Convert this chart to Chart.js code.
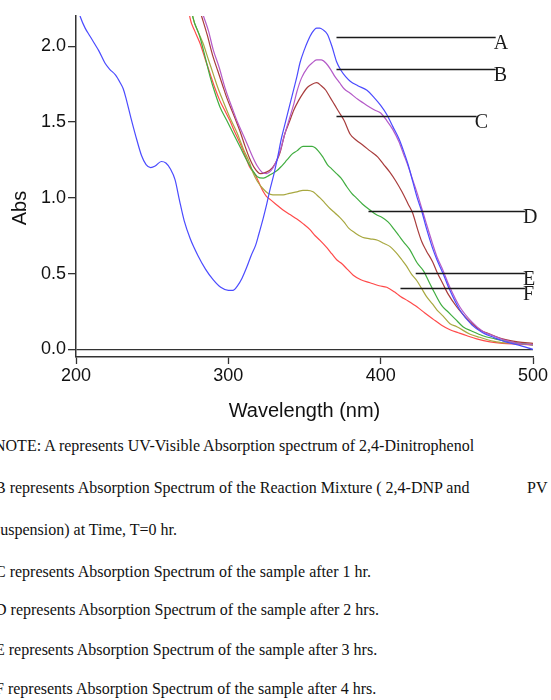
<!DOCTYPE html>
<html><head><meta charset="utf-8">
<script src="https://cdn.jsdelivr.net/npm/chart.js@4.4.0/dist/chart.umd.min.js"></script>
<style>
html,body{margin:0;padding:0;background:#fff;overflow:hidden;width:551px;height:700px;position:relative;}
#wrap{position:absolute;left:0;top:0;width:551px;height:430px;}
.note{position:absolute;font-family:"Liberation Serif","Times New Roman",serif;font-size:16px;color:#111;white-space:pre;line-height:1;}
</style></head><body>
<div id="wrap"><canvas id="c" width="551" height="430"></canvas></div>
<div class="note" style="left:-6px;top:438px">NOTE: A represents UV-Visible Absorption spectrum of 2,4-Dinitrophenol</div>
<div class="note" style="left:-5px;top:480px">B represents Absorption Spectrum of the Reaction Mixture ( 2,4-DNP and</div>
<div class="note" style="left:527px;top:480px">PV</div>
<div class="note" style="left:-6px;top:522px">suspension) at Time, T=0 hr.</div>
<div class="note" style="left:-5px;top:564px">C represents Absorption Spectrum of the sample after 1 hr.</div>
<div class="note" style="left:-5px;top:602px">D represents Absorption Spectrum of the sample after 2 hrs.</div>
<div class="note" style="left:-5px;top:642px">E represents Absorption Spectrum of the sample after 3 hrs.</div>
<div class="note" style="left:-5px;top:681px">F represents Absorption Spectrum of the sample after 4 hrs.</div>
<script>
// ---- data (wavelength nm / absorbance) ----
const seriesNames = ['A','B','C','D','E','F'];
const xTicks = [200, 300, 400, 500];
const yTicks = [0.0, 0.5, 1.0, 1.5, 2.0];

const wlA  = [200,203,206,209,212,215,219,222,226,229,231,233,236,240,243,246,249,252,256,259,262,265,268,271,275,280,285,290,295,300,303,306,309,312,315,318,320,323,325,327,330,332,335,337,340,342,345,347,350,352,355,358,360,362,365,368,371,374,377,380,385,391,395,400,404,408,412,415,418,421,424,427,430,434,437,441,445,452,460,467,474,482,490,500];
const absA = [2.30,2.19,2.12,2.07,2.02,1.97,1.89,1.85,1.81,1.76,1.72,1.65,1.53,1.38,1.28,1.22,1.20,1.21,1.24,1.23,1.19,1.12,0.98,0.85,0.73,0.62,0.53,0.46,0.41,0.39,0.39,0.42,0.47,0.54,0.62,0.69,0.76,0.87,0.95,1.04,1.16,1.25,1.40,1.48,1.60,1.68,1.80,1.89,1.98,2.03,2.09,2.12,2.12,2.11,2.08,2.00,1.90,1.84,1.80,1.77,1.74,1.71,1.67,1.61,1.55,1.47,1.39,1.31,1.22,1.11,1.00,0.91,0.80,0.67,0.59,0.50,0.40,0.26,0.16,0.11,0.08,0.05,0.03,0.00];

const wlB  = [270,284,287,290,294,298,303,306,310,313,316,319,322,325,328,331,334,337,340,343,345,348,352,355,358,361,364,367,370,373,376,380,385,391,396,400,404,408,412,415,418,421,424,427,430,434,437,441,445,452,460,467,474,482,490,500];
const absB = [2.60,2.19,2.10,1.98,1.86,1.72,1.58,1.50,1.41,1.34,1.27,1.21,1.17,1.16,1.18,1.23,1.31,1.42,1.52,1.62,1.70,1.79,1.86,1.89,1.91,1.91,1.89,1.85,1.80,1.76,1.72,1.69,1.65,1.61,1.58,1.56,1.51,1.45,1.37,1.29,1.21,1.12,1.03,0.93,0.83,0.70,0.61,0.52,0.42,0.28,0.18,0.12,0.09,0.06,0.04,0.03];

const wlC  = [270,282.7,286,290,293,296,299,303,308,311,314,317,321,325,329,332,334,337,340,343,346,349,352,355,358,361,364,367,370,373,376,380,384,388,393,398,402,406,410,414,418,421,424,427,430,434,437,441,444,450,455,459,465,472,480,490,500];
const absC = [2.60,2.19,2.08,1.93,1.84,1.75,1.66,1.56,1.43,1.34,1.26,1.20,1.16,1.17,1.20,1.25,1.30,1.42,1.50,1.58,1.64,1.69,1.73,1.75,1.76,1.74,1.71,1.66,1.61,1.56,1.51,1.42,1.38,1.35,1.31,1.27,1.22,1.17,1.11,1.04,0.96,0.90,0.80,0.71,0.65,0.58,0.51,0.43,0.37,0.28,0.22,0.18,0.13,0.10,0.07,0.05,0.04];

const wlD  = [270,276.8,281.4,285,288,291,294.5,299,303,308,312,316,319,323,327,332,335,338.5,342,345,349,352,355,357,359,362,365,368,371,374,378,381,384,388,393,397,401,405,409,412,415,419,424,428,432,435,440,444,449,454,460,467,475,485,492,500];
const absD = [2.60,2.19,2.06,1.92,1.80,1.70,1.60,1.51,1.43,1.33,1.25,1.18,1.14,1.13,1.15,1.18,1.21,1.25,1.29,1.31,1.34,1.34,1.34,1.33,1.31,1.27,1.22,1.19,1.16,1.13,1.07,1.03,1.00,0.96,0.92,0.89,0.87,0.84,0.79,0.75,0.71,0.66,0.57,0.52,0.44,0.38,0.29,0.25,0.20,0.15,0.12,0.09,0.07,0.05,0.04,0.03];

const wlE  = [270,276.8,280,283.4,287,290,293,296.5,301,305.7,310,314,316,319,322.8,326,329.3,333,336,340,345,349,352,355.6,358,360.2,363,366.7,370,373.3,376,379,383,388,393,398,402,406,410,414,417,420,424,427,430,434,437,441,445.5,450,458.7,465,476,488,500];
const absE = [2.60,2.19,2.10,2.02,1.91,1.82,1.73,1.64,1.53,1.43,1.32,1.23,1.17,1.11,1.06,1.03,1.02,1.02,1.02,1.03,1.04,1.05,1.05,1.04,1.02,1.00,0.97,0.93,0.90,0.87,0.84,0.80,0.77,0.74,0.73,0.72,0.70,0.68,0.64,0.59,0.55,0.50,0.45,0.40,0.35,0.30,0.26,0.22,0.17,0.15,0.10,0.08,0.05,0.04,0.03];

const wlF  = [270,274.8,278,281.4,285,288,291,294.5,298,301,304,307.7,311,314.2,316.5,318.8,321,323,325,327.4,331,335.9,340.5,345,349,353.6,357,360.2,364.8,368,371.3,374,378,382,387,393,399,404,409,413,418,424,429,434.4,440,445.5,451,456.7,463,471.8,480,489.5,500];
const absF = [2.55,2.19,2.10,2.02,1.91,1.82,1.73,1.64,1.57,1.51,1.44,1.36,1.28,1.20,1.17,1.13,1.08,1.04,1.01,0.99,0.96,0.92,0.89,0.86,0.83,0.79,0.75,0.72,0.67,0.63,0.59,0.57,0.53,0.49,0.46,0.44,0.42,0.41,0.38,0.35,0.32,0.28,0.24,0.20,0.16,0.13,0.11,0.09,0.07,0.05,0.04,0.035,0.03];

// annotation leader lines (data units)
const labelY  = [2.06, 1.85, 1.54, 0.915, 0.506, 0.403];
const labelX0 = [371, 371, 371, 392, 423, 413];
const labelX1 = [475.5, 475.5, 463, 494.7, 494.7, 494.7];

const seriesWl  = [wlA, wlB, wlC, wlD, wlE, wlF];
const seriesAbs = [absA, absB, absC, absD, absE, absF];
const colors = ['#4b4bff', '#b45ac8', '#a83c3c', '#40ad40', '#a8a840', '#ff4a4a'];

const datasets = seriesNames.map((n, i) => ({
  label: n,
  data: seriesWl[i].map((x, j) => ({x: x, y: seriesAbs[i][j]})),
  borderColor: colors[i],
  borderWidth: 1.2,
  pointRadius: 0,
  fill: false,
  tension: 0.3,
  cubicInterpolationMode: 'monotone'
}));

const axisColor = '#333';
const sans = '"Liberation Sans", Arial, sans-serif';

const annotPlugin = {
  id: 'annot',
  afterDraw(chart) {
    const ctx = chart.ctx, xs = chart.scales.x, ys = chart.scales.y;
    ctx.save();
    ctx.strokeStyle = '#1a1a1a';
    ctx.lineWidth = 1.3;
    ctx.fillStyle = '#1a1a1a';
    ctx.font = '20px "Liberation Serif", "Times New Roman", serif';
    ctx.textBaseline = 'alphabetic';
    ctx.textAlign = 'left';
    seriesNames.forEach((n, i) => {
      const y = Math.round(ys.getPixelForValue(labelY[i])) + 0.5;
      const x0 = xs.getPixelForValue(labelX0[i]);
      const x1 = xs.getPixelForValue(labelX1[i]);
      ctx.beginPath(); ctx.moveTo(x0, y); ctx.lineTo(x1, y); ctx.stroke();
      ctx.fillText(n, x1 - 2, y + 11);
    });
    // y axis title
    ctx.translate(20, 208);
    ctx.rotate(-Math.PI / 2);
    ctx.font = '20px ' + sans;
    ctx.textAlign = 'center';
    ctx.textBaseline = 'middle';
    ctx.fillStyle = '#111';
    ctx.fillText('Abs', 0, 0);
    ctx.restore();
  }
};

new Chart(document.getElementById('c'), {
  type: 'line',
  data: { datasets },
  options: {
    responsive: false,
    animation: false,
    layout: { padding: { left: 0, right: 18, top: 16, bottom: 0 } },
    plugins: { legend: { display: false }, tooltip: { enabled: false } },
    scales: {
      x: {
        type: 'linear', min: 200, max: 500,
        afterBuildTicks: s => { s.ticks = xTicks.map(v => ({value: v})); },
        afterFit: s => { s.height = 73; },
        ticks: { font: { family: sans, size: 18 }, color: '#111', padding: 1, maxRotation: 0 },
        grid: { drawOnChartArea: false, tickLength: 7, tickColor: axisColor, tickWidth: 1.3 },
        border: { color: axisColor, width: 1.5 },
        title: { display: true, text: 'Wavelength (nm)', font: { family: sans, size: 20 }, color: '#111', padding: { top: 0, bottom: 7 } }
      },
      y: {
        type: 'linear', min: -0.05, max: 2.2,
        afterBuildTicks: s => { s.ticks = yTicks.map(v => ({value: v})); },
        afterFit: s => { s.width = 76; },
        ticks: { font: { family: sans, size: 18 }, color: '#111', padding: 2, callback: v => Number(v).toFixed(1) },
        grid: { drawOnChartArea: true, tickLength: 8, tickColor: axisColor, tickWidth: 1.3,
                color: c => (c.tick && c.tick.value === 0) ? axisColor : 'rgba(0,0,0,0)', lineWidth: 1.3 },
        border: { color: axisColor, width: 1.5 }
      }
    }
  },
  plugins: [annotPlugin]
});
</script>
</body></html>
